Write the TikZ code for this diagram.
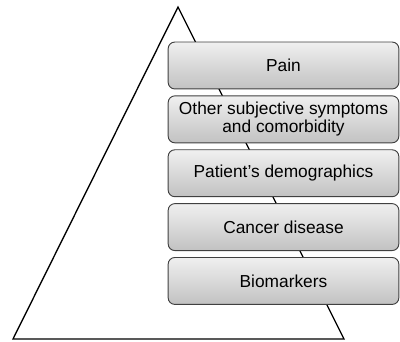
\documentclass[tikz,border=0pt]{standalone}
\usepackage{fontspec}
\setmainfont{Liberation Sans}
\usetikzlibrary{positioning}

\begin{document}
\begin{tikzpicture}[
  x=0.75pt, y=-0.75pt,
  level/.style={draw=black!75, line width=0.7pt, rounded corners=5pt, minimum width=173pt, minimum height=35.2pt, inner sep=1pt, align=center, top color=black!6, bottom color=black!24, font=\fontsize{13}{13.4}\selectfont},
  edge/.style={line width=1pt, line join=miter}
]
\useasboundingbox (0,0) rectangle (400,342);
% the pyramid
\coordinate (apex) at (178,7);
\coordinate (baseL) at (13,339);
\coordinate (baseR) at (344,339);
\draw[edge] (apex) -- (baseR) -- (baseL) -- cycle;
% the levels
\node[level] (pain) at (283.5,65.5) {Pain};
\node[level, below=4.5pt of pain] (other) {Other subjective symptoms\\and comorbidity};
\node[level, below=4.5pt of other] (demo) {Patient’s demographics};
\node[level, below=4.5pt of demo] (cancer) {Cancer disease};
\node[level, below=4.5pt of cancer] (bio) {Biomarkers};
\end{tikzpicture}
\end{document}
